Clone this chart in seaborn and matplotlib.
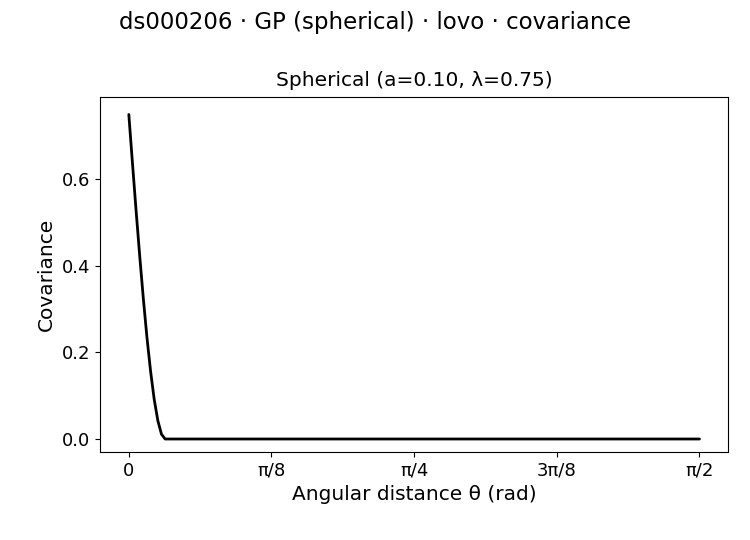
import numpy as np
import matplotlib
matplotlib.use("Agg")
import matplotlib.pyplot as plt
import seaborn as sns

# values (theta in rad)
theta = [0.0, 0.005, 0.01, 0.015, 0.02, 0.03, 0.04, 0.05, 0.06, 0.07, 0.08, 0.09, 0.10, 1.5708]
cov = [0.75, 0.694, 0.638, 0.583, 0.528, 0.423, 0.324, 0.234, 0.156, 0.091, 0.042, 0.011, 0.0, 0.0]
tick_pos = [0, np.pi / 8, np.pi / 4, 3 * np.pi / 8, np.pi / 2]
tick_labels = ["0", "π/8", "π/4", "3π/8", "π/2"]

sns.set_style("ticks")
plt.rcParams["font.family"] = ["DejaVu Sans"]
plt.rcParams["text.color"] = "black"
plt.rcParams["axes.labelcolor"] = "black"
plt.rcParams["xtick.color"] = "black"
plt.rcParams["ytick.color"] = "black"
plt.rcParams["axes.edgecolor"] = "black"

fig = plt.figure(figsize=(7.5, 5.4), dpi=100)
ax = fig.add_axes([0.133, 0.163, 0.838, 0.657])
sns.lineplot(x=theta, y=cov, color="black", linewidth=2, ax=ax)

ax.set_xticks(tick_pos)
ax.set_xticklabels(tick_labels)
ax.tick_params(labelsize=13)
ax.set_xlim(-0.08, 1.65)
ax.set_ylim(-0.03, 0.79)
ax.set_yticks([0.0, 0.2, 0.4, 0.6])
ax.set_xlabel("Angular distance θ (rad)", fontsize=14.5)
ax.set_ylabel("Covariance", fontsize=14.5)
ax.set_title("Spherical (a=0.10, λ=0.75)", fontsize=14.5, pad=8)
fig.suptitle("ds000206 · GP (spherical) · lovo · covariance", fontsize=16.5, x=0.5, y=0.98)

fig.savefig("out.png", dpi=100)
